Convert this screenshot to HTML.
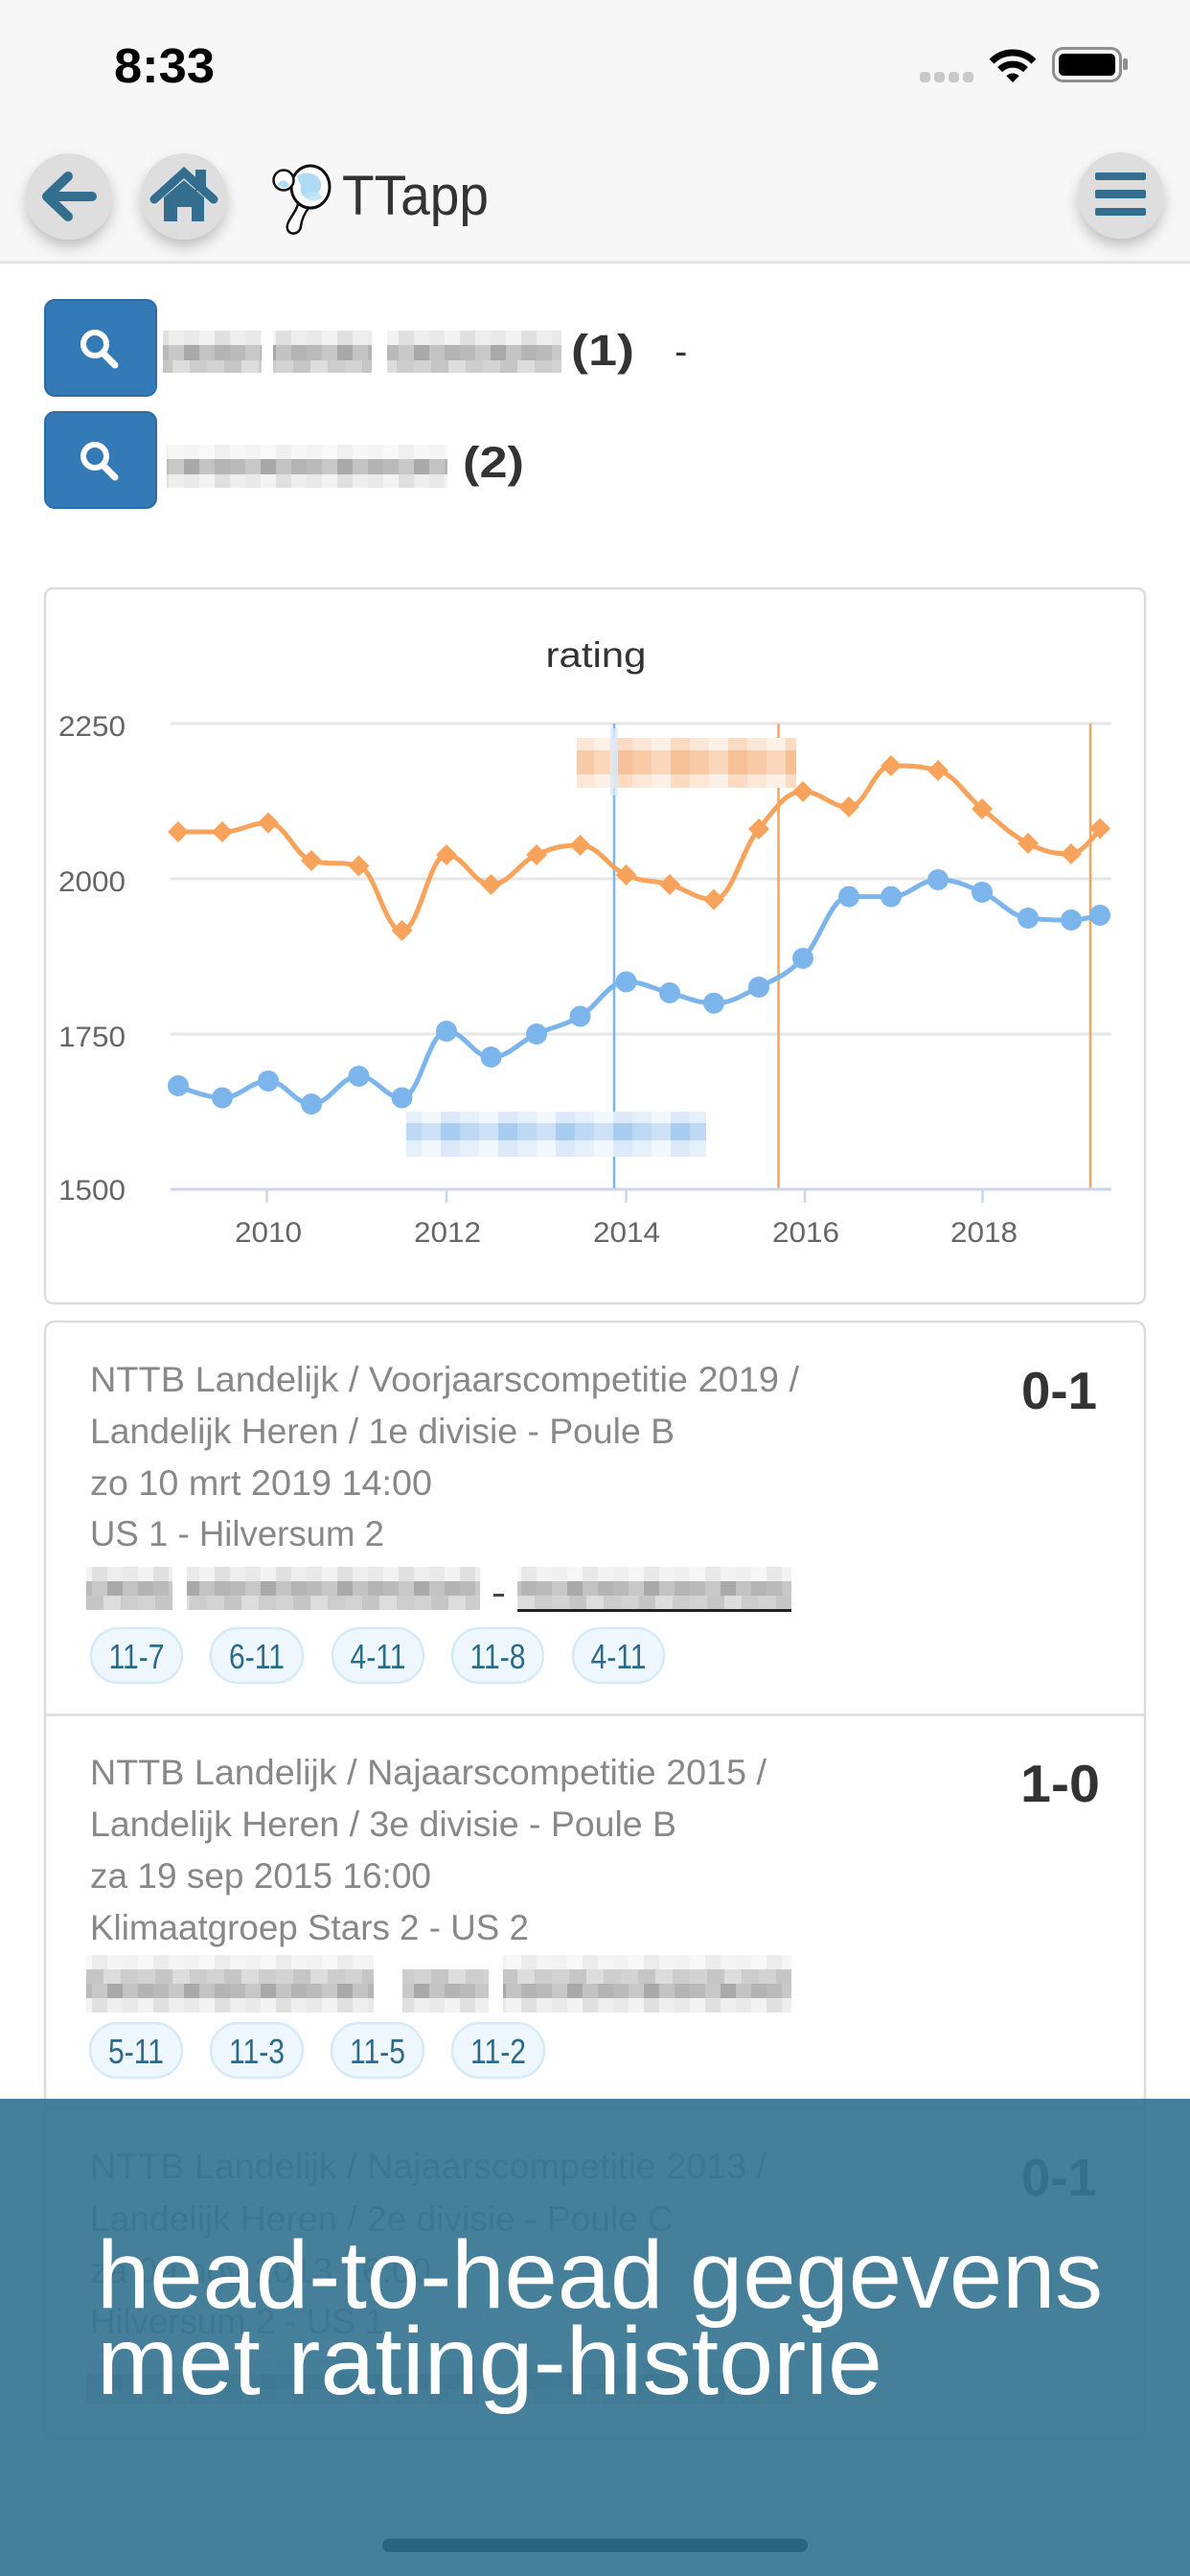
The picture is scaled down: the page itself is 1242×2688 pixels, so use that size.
<!DOCTYPE html>
<html>
<head>
<meta charset="utf-8">
<style>
  html,body{margin:0;padding:0;background:#fff;}
  body{width:1242px;height:2688px;overflow:hidden;position:relative;}
  svg{display:block;}
</style>
</head>
<body>
<svg width="1242" height="2688" viewBox="0 0 1242 2688" xmlns="http://www.w3.org/2000/svg" font-family="'Liberation Sans', sans-serif">
  <defs>
    <filter id="sh" x="-40%" y="-40%" width="180%" height="190%">
      <feDropShadow dx="0" dy="8" stdDeviation="7" flood-color="#000" flood-opacity="0.22"/>
    </filter>
    <pattern id="pl" patternUnits="userSpaceOnUse" width="64" height="2000">
      <rect x="0" y="0" width="16" height="2000" fill="#e9e9e9"/>
      <rect x="16" y="0" width="16" height="2000" fill="#f3f3f3"/>
      <rect x="32" y="0" width="16" height="2000" fill="#e0e0e0"/>
      <rect x="48" y="0" width="16" height="2000" fill="#eeeeee"/>
    </pattern>
    <pattern id="pd" patternUnits="userSpaceOnUse" width="80" height="2000">
      <rect x="0" y="0" width="16" height="2000" fill="#bababa"/>
      <rect x="16" y="0" width="16" height="2000" fill="#c8c8c8"/>
      <rect x="32" y="0" width="16" height="2000" fill="#a9a9a9"/>
      <rect x="48" y="0" width="16" height="2000" fill="#c3c3c3"/>
      <rect x="64" y="0" width="16" height="2000" fill="#b4b4b4"/>
    </pattern>
    <pattern id="pm" patternUnits="userSpaceOnUse" width="72" height="2000">
      <rect x="0" y="0" width="18" height="2000" fill="#d3d3d3"/>
      <rect x="18" y="0" width="18" height="2000" fill="#c6c6c6"/>
      <rect x="36" y="0" width="18" height="2000" fill="#dddddd"/>
      <rect x="54" y="0" width="18" height="2000" fill="#cdcdcd"/>
    </pattern>
    <pattern id="po" patternUnits="userSpaceOnUse" width="60" height="2000">
      <rect x="0" y="0" width="20" height="2000" fill="#f8cba6"/>
      <rect x="20" y="0" width="20" height="2000" fill="#fad7bb"/>
      <rect x="40" y="0" width="20" height="2000" fill="#f6c196"/>
    </pattern>
    <pattern id="pol" patternUnits="userSpaceOnUse" width="60" height="2000">
      <rect x="0" y="0" width="20" height="2000" fill="#fce6d5"/>
      <rect x="20" y="0" width="20" height="2000" fill="#fdf0e6"/>
      <rect x="40" y="0" width="20" height="2000" fill="#fbdcc3"/>
    </pattern>
    <pattern id="pb" patternUnits="userSpaceOnUse" width="60" height="2000">
      <rect x="0" y="0" width="20" height="2000" fill="#bcd8f3"/>
      <rect x="20" y="0" width="20" height="2000" fill="#cde2f6"/>
      <rect x="40" y="0" width="20" height="2000" fill="#a9cdf0"/>
    </pattern>
    <pattern id="pbl" patternUnits="userSpaceOnUse" width="60" height="2000">
      <rect x="0" y="0" width="20" height="2000" fill="#e6f0fa"/>
      <rect x="20" y="0" width="20" height="2000" fill="#f3f8fd"/>
      <rect x="40" y="0" width="20" height="2000" fill="#dde9f8"/>
    </pattern>
    <path id="dm" d="M0,-11 L11,0 L0,11 L-11,0 Z" fill="#f7a35c"/>
  </defs>

  <rect x="0" y="0" width="1242" height="2688" fill="#ffffff"/>

  <!-- ===== Header / status bar ===== -->
  <rect x="0" y="0" width="1242" height="273" fill="#f7f7f7"/>
  <rect x="0" y="272" width="1242" height="3" fill="#e4e4e4"/>
  <text x="119" y="86" font-size="51" font-weight="bold" fill="#000" textLength="105" lengthAdjust="spacingAndGlyphs">8:33</text>

  <!-- signal dots -->
  <rect x="960" y="75" width="11" height="11" rx="4" fill="#c8c8c8"/>
  <rect x="975" y="75" width="11" height="11" rx="4" fill="#c8c8c8"/>
  <rect x="990" y="75" width="11" height="11" rx="4" fill="#c8c8c8"/>
  <rect x="1005" y="75" width="11" height="11" rx="4" fill="#c8c8c8"/>
  <!-- wifi -->
  <path d="M1035.1,64.1 A31,31 0 0,1 1078.9,64.1" fill="none" stroke="#000" stroke-width="7"/>
  <path d="M1043.6,72.6 A19,19 0 0,1 1070.4,72.6" fill="none" stroke="#000" stroke-width="7"/>
  <path d="M1057,86 L1050.3,79.3 A9.5,9.5 0 0,1 1063.7,79.3 Z" fill="#000"/>
  <!-- battery -->
  <rect x="1099.5" y="50.5" width="70" height="34" rx="10" fill="none" stroke="#8e8e8e" stroke-width="3"/>
  <rect x="1105" y="56" width="59" height="23" rx="5" fill="#000"/>
  <rect x="1172" y="61" width="5" height="12" rx="2" fill="#8e8e8e"/>

  <!-- nav buttons -->
  <circle cx="72" cy="205" r="45" fill="#dedede" filter="url(#sh)"/>
  <circle cx="192" cy="205" r="45" fill="#dedede" filter="url(#sh)"/>
  <circle cx="1170" cy="204" r="45" fill="#dedede" filter="url(#sh)"/>
  <!-- back arrow -->
  <path d="M96,205 H52 M71,184 L49,205 L71,226" fill="none" stroke="#336e8e" stroke-width="10" stroke-linecap="round" stroke-linejoin="round"/>
  <!-- house -->
  <rect x="204" y="177" width="11" height="22" fill="#336e8e"/>
  <path d="M161,208 L192,180 L223,208" fill="none" stroke="#336e8e" stroke-width="9" stroke-linecap="round" stroke-linejoin="miter"/>
  <path d="M171,206 L192,188 L213,206 V231 H200 V216 H185 V231 H171 Z" fill="#336e8e"/>
  <!-- menu -->
  <rect x="1143" y="180" width="53" height="8" rx="2" fill="#336e8e"/>
  <rect x="1143" y="198" width="53" height="9" rx="2" fill="#336e8e"/>
  <rect x="1143" y="217" width="53" height="8" rx="2" fill="#336e8e"/>

  <!-- logo -->
  <path d="M311,213 C308,224 298,231 300,239 C302,246 313,245 314,236 C315,228 318,222 323,216" fill="#fff" stroke="#111" stroke-width="2.5"/>
  <ellipse cx="324" cy="195" rx="20" ry="22" fill="#ffffff" stroke="#111" stroke-width="3"/>
  <path d="M310,184 C318,178 330,180 334,188 C338,196 332,204 324,206 C316,208 312,200 314,194 Z" fill="#9fd3f2" opacity="0.85"/>
  <path d="M320,200 C326,202 334,198 336,206 C330,212 322,210 318,206 Z" fill="#b9e0f6" opacity="0.8"/>
  <circle cx="296" cy="188" r="10.5" fill="#ffffff" stroke="#111" stroke-width="2.5"/>
  <path d="M290,192 C294,186 300,188 302,194 C298,197 292,197 290,192 Z" fill="#9fd3f2" opacity="0.8"/>
  <text x="357" y="224" font-size="58" fill="#333" textLength="153" lengthAdjust="spacingAndGlyphs">TTapp</text>

  <!-- ===== Search rows ===== -->
  <rect x="47" y="313" width="116" height="100" rx="10" fill="#337ab7" stroke="#2e6da4" stroke-width="2"/>
  <circle cx="99" cy="359" r="12" fill="none" stroke="#fff" stroke-width="6"/>
  <line x1="108" y1="369" x2="120" y2="381" stroke="#fff" stroke-width="7" stroke-linecap="round"/>
  <rect x="47" y="430" width="116" height="100" rx="10" fill="#337ab7" stroke="#2e6da4" stroke-width="2"/>
  <circle cx="99" cy="476" r="12" fill="none" stroke="#fff" stroke-width="6"/>
  <line x1="108" y1="486" x2="120" y2="498" stroke="#fff" stroke-width="7" stroke-linecap="round"/>

  <!-- blurred name 1 -->
  <rect x="170" y="345" width="103" height="15" fill="url(#pl)"/>
  <rect x="170" y="360" width="103" height="16" fill="url(#pd)"/>
  <rect x="170" y="376" width="103" height="13" fill="url(#pm)"/>
  <rect x="285" y="345" width="103" height="15" fill="url(#pl)"/>
  <rect x="285" y="360" width="103" height="16" fill="url(#pd)"/>
  <rect x="285" y="376" width="103" height="13" fill="url(#pm)"/>
  <rect x="404" y="345" width="182" height="15" fill="url(#pl)"/>
  <rect x="404" y="360" width="182" height="16" fill="url(#pd)"/>
  <rect x="404" y="376" width="182" height="13" fill="url(#pm)"/>
  <text x="596" y="381" font-size="45" font-weight="bold" fill="#333" textLength="66" lengthAdjust="spacingAndGlyphs">(1)</text>
  <text x="704" y="380" font-size="40" fill="#333">-</text>

  <!-- blurred name 2 -->
  <rect x="174" y="464" width="293" height="15" fill="url(#pl)" opacity="0.5"/>
  <rect x="174" y="479" width="293" height="16" fill="url(#pd)"/>
  <rect x="174" y="495" width="293" height="14" fill="url(#pl)"/>
  <text x="483" y="498" font-size="45" font-weight="bold" fill="#333" textLength="64" lengthAdjust="spacingAndGlyphs">(2)</text>

  <!-- ===== Chart card ===== -->
  <rect x="47" y="614" width="1148" height="746" rx="8" fill="#fff" stroke="#dcdcdc" stroke-width="2.5"/>
  <text x="622" y="696" font-size="37" fill="#333" text-anchor="middle" textLength="105" lengthAdjust="spacingAndGlyphs">rating</text>

  <!-- grid -->
  <line x1="178" y1="755" x2="1160" y2="755" stroke="#e6e6e6" stroke-width="3"/>
  <line x1="178" y1="917" x2="1160" y2="917" stroke="#e6e6e6" stroke-width="3"/>
  <line x1="178" y1="1079" x2="1160" y2="1079" stroke="#e6e6e6" stroke-width="3"/>
  <!-- y labels -->
  <g font-size="30" fill="#666" text-anchor="end">
    <text x="131" y="768" textLength="70" lengthAdjust="spacingAndGlyphs">2250</text>
    <text x="131" y="930" textLength="70" lengthAdjust="spacingAndGlyphs">2000</text>
    <text x="131" y="1092" textLength="70" lengthAdjust="spacingAndGlyphs">1750</text>
    <text x="131" y="1252" textLength="70" lengthAdjust="spacingAndGlyphs">1500</text>
  </g>

  <!-- plot lines -->
  <line x1="641" y1="755" x2="641" y2="1241" stroke="#7cb5ec" stroke-width="2.5"/>
  <line x1="812.5" y1="755" x2="812.5" y2="1241" stroke="#f7a35c" stroke-width="2.5"/>
  <line x1="1138" y1="755" x2="1138" y2="1241" stroke="#f7a35c" stroke-width="2.5"/>

  <!-- blurred plot line labels -->
  <rect x="602" y="770" width="229" height="13" fill="url(#pol)"/>
  <rect x="602" y="783" width="229" height="25" fill="url(#po)"/>
  <rect x="602" y="808" width="229" height="14" fill="url(#pol)"/>
  <rect x="637" y="760" width="8" height="70" fill="#dbeaf9" opacity="0.8"/>
  <rect x="424" y="1160" width="313" height="12" fill="url(#pbl)"/>
  <rect x="424" y="1172" width="313" height="18" fill="url(#pb)"/>
  <rect x="424" y="1190" width="313" height="17" fill="url(#pbl)"/>

  <!-- x axis -->
  <line x1="178" y1="1241" x2="1160" y2="1241" stroke="#ccd6eb" stroke-width="3"/>
  <g stroke="#ccd6eb" stroke-width="2.5">
    <line x1="278.5" y1="1241" x2="278.5" y2="1255"/>
    <line x1="466" y1="1241" x2="466" y2="1255"/>
    <line x1="653.5" y1="1241" x2="653.5" y2="1255"/>
    <line x1="840" y1="1241" x2="840" y2="1255"/>
    <line x1="1025.5" y1="1241" x2="1025.5" y2="1255"/>
  </g>
  <g font-size="30" fill="#666" text-anchor="middle">
    <text x="280" y="1296" textLength="70" lengthAdjust="spacingAndGlyphs">2010</text>
    <text x="467" y="1296" textLength="70" lengthAdjust="spacingAndGlyphs">2012</text>
    <text x="654" y="1296" textLength="70" lengthAdjust="spacingAndGlyphs">2014</text>
    <text x="841" y="1296" textLength="70" lengthAdjust="spacingAndGlyphs">2016</text>
    <text x="1027" y="1296" textLength="70" lengthAdjust="spacingAndGlyphs">2018</text>
  </g>

  <!-- series -->
  <path id="sO" d="M186,868 L232,868 L280,858.6 L325,898 L374.5,903.5 L419.5,971 L466,892 L512.5,923 L560,892 L605.5,882 L653.5,913 L699,923 L745,938.6 L792,865 L838,826 L886,842 L930,799 L979,804 L1025,844 L1073,880 L1118,891 L1148,864.5" fill="none" stroke="#f7a35c" stroke-width="5" stroke-linejoin="round" stroke-linecap="round"/>
  <path id="sB" d="M186,1133 L232,1145.5 L280,1128 L325,1152 L374.5,1123 L419.5,1145.5 L466,1076 L512.5,1103 L560,1079 L605.5,1060.5 L653.5,1024.5 L699,1036 L745,1046.7 L792,1030 L838,1000 L886,935.6 L930,935.6 L979,918 L1025,931 L1073,958 L1118,960 L1148,955" fill="none" stroke="#7cb5ec" stroke-width="5" stroke-linejoin="round" stroke-linecap="round"/>

  <g>
    <use href="#dm" x="186" y="868"/><use href="#dm" x="232" y="868"/><use href="#dm" x="280" y="858.6"/>
    <use href="#dm" x="325" y="898"/><use href="#dm" x="374.5" y="903.5"/><use href="#dm" x="419.5" y="971"/>
    <use href="#dm" x="466" y="892"/><use href="#dm" x="512.5" y="923"/><use href="#dm" x="560" y="892"/>
    <use href="#dm" x="605.5" y="882"/><use href="#dm" x="653.5" y="913"/><use href="#dm" x="699" y="923"/>
    <use href="#dm" x="745" y="938.6"/><use href="#dm" x="792" y="865"/><use href="#dm" x="838" y="826"/>
    <use href="#dm" x="886" y="842"/><use href="#dm" x="930" y="799"/><use href="#dm" x="979" y="804"/>
    <use href="#dm" x="1025" y="844"/><use href="#dm" x="1073" y="880"/><use href="#dm" x="1118" y="891"/>
    <use href="#dm" x="1148" y="864.5"/>
  </g>
  <g fill="#7cb5ec">
    <circle cx="186" cy="1133" r="11"/><circle cx="232" cy="1145.5" r="11"/><circle cx="280" cy="1128" r="11"/>
    <circle cx="325" cy="1152" r="11"/><circle cx="374.5" cy="1123" r="11"/><circle cx="419.5" cy="1145.5" r="11"/>
    <circle cx="466" cy="1076" r="11"/><circle cx="512.5" cy="1103" r="11"/><circle cx="560" cy="1079" r="11"/>
    <circle cx="605.5" cy="1060.5" r="11"/><circle cx="653.5" cy="1024.5" r="11"/><circle cx="699" cy="1036" r="11"/>
    <circle cx="745" cy="1046.7" r="11"/><circle cx="792" cy="1030" r="11"/><circle cx="838" cy="1000" r="11"/>
    <circle cx="886" cy="935.6" r="11"/><circle cx="930" cy="935.6" r="11"/><circle cx="979" cy="918" r="11"/>
    <circle cx="1025" cy="931" r="11"/><circle cx="1073" cy="958" r="11"/><circle cx="1118" cy="960" r="11"/>
    <circle cx="1148" cy="955" r="11"/>
  </g>

  <!-- ===== Match list ===== -->
  <rect x="47" y="1379" width="1148" height="1166" rx="10" fill="#fff" stroke="#dcdcdc" stroke-width="2.5"/>
  <line x1="47" y1="1789.5" x2="1195" y2="1789.5" stroke="#dcdcdc" stroke-width="2.5"/>
  <line x1="47" y1="2200" x2="1195" y2="2200" stroke="#dcdcdc" stroke-width="2.5"/>

  <!-- card 1 -->
  <g font-size="37" fill="#888">
    <text x="94" y="1452" textLength="740" lengthAdjust="spacingAndGlyphs">NTTB Landelijk / Voorjaarscompetitie 2019 /</text>
    <text x="94" y="1506" textLength="610" lengthAdjust="spacingAndGlyphs">Landelijk Heren / 1e divisie - Poule B</text>
    <text x="94" y="1560" textLength="357" lengthAdjust="spacingAndGlyphs">zo 10 mrt 2019 14:00</text>
    <text x="94" y="1613" textLength="307" lengthAdjust="spacingAndGlyphs">US 1 - Hilversum 2</text>
  </g>
  <text x="1066" y="1470" font-size="55" font-weight="bold" fill="#333" textLength="79" lengthAdjust="spacingAndGlyphs">0-1</text>
  <!-- blurred players card1 -->
  <rect x="90" y="1635" width="90" height="15" fill="url(#pl)"/>
  <rect x="90" y="1650" width="90" height="15" fill="url(#pd)"/>
  <rect x="90" y="1665" width="90" height="15" fill="url(#pm)"/>
  <rect x="195" y="1635" width="306" height="15" fill="url(#pl)"/>
  <rect x="195" y="1650" width="306" height="15" fill="url(#pd)"/>
  <rect x="195" y="1665" width="306" height="15" fill="url(#pm)"/>
  <rect x="515" y="1663" width="11" height="3" fill="#444"/>
  <rect x="540" y="1635" width="286" height="15" fill="url(#pl)" opacity="0.7"/>
  <rect x="540" y="1650" width="286" height="15" fill="url(#pd)"/>
  <rect x="540" y="1665" width="286" height="14" fill="url(#pm)"/>
  <rect x="540" y="1679" width="286" height="3" fill="#222"/>
  <!-- chips card1 -->
  <g fill="#eef7fd" stroke="#d5eaf6" stroke-width="2.5">
    <rect x="95" y="1699" width="95" height="57" rx="28.5"/>
    <rect x="220" y="1699" width="96" height="57" rx="28.5"/>
    <rect x="347" y="1699" width="95" height="57" rx="28.5"/>
    <rect x="472" y="1699" width="95" height="57" rx="28.5"/>
    <rect x="598" y="1699" width="95" height="57" rx="28.5"/>
  </g>
  <g font-size="36" fill="#2d6a89" text-anchor="middle">
    <text x="142.5" y="1741" textLength="58" lengthAdjust="spacingAndGlyphs">11-7</text>
    <text x="268" y="1741" textLength="58" lengthAdjust="spacingAndGlyphs">6-11</text>
    <text x="394.5" y="1741" textLength="58" lengthAdjust="spacingAndGlyphs">4-11</text>
    <text x="519.5" y="1741" textLength="58" lengthAdjust="spacingAndGlyphs">11-8</text>
    <text x="645.5" y="1741" textLength="58" lengthAdjust="spacingAndGlyphs">4-11</text>
  </g>

  <!-- card 2 -->
  <g font-size="37" fill="#888">
    <text x="94" y="1862" textLength="706" lengthAdjust="spacingAndGlyphs">NTTB Landelijk / Najaarscompetitie 2015 /</text>
    <text x="94" y="1916" textLength="612" lengthAdjust="spacingAndGlyphs">Landelijk Heren / 3e divisie - Poule B</text>
    <text x="94" y="1970" textLength="356" lengthAdjust="spacingAndGlyphs">za 19 sep 2015 16:00</text>
    <text x="94" y="2024" textLength="458" lengthAdjust="spacingAndGlyphs">Klimaatgroep Stars 2 - US 2</text>
  </g>
  <text x="1065" y="1880" font-size="55" font-weight="bold" fill="#333" textLength="83" lengthAdjust="spacingAndGlyphs">1-0</text>
  <!-- blurred players card2 -->
  <rect x="90" y="2040" width="300" height="15" fill="url(#pl)" opacity="0.6"/>
  <rect x="90" y="2055" width="300" height="15" fill="url(#pm)"/>
  <rect x="90" y="2070" width="300" height="15" fill="url(#pd)"/>
  <rect x="90" y="2085" width="300" height="15" fill="url(#pl)"/>
  <rect x="420" y="2055" width="90" height="15" fill="url(#pm)"/>
  <rect x="420" y="2070" width="90" height="15" fill="url(#pd)"/>
  <rect x="420" y="2085" width="90" height="15" fill="url(#pl)"/>
  <rect x="525" y="2040" width="301" height="15" fill="url(#pl)" opacity="0.6"/>
  <rect x="525" y="2055" width="301" height="15" fill="url(#pm)"/>
  <rect x="525" y="2070" width="301" height="15" fill="url(#pd)"/>
  <rect x="525" y="2085" width="301" height="15" fill="url(#pl)"/>
  <!-- chips card2 -->
  <g fill="#eef7fd" stroke="#d5eaf6" stroke-width="2.5">
    <rect x="94" y="2111" width="96" height="57" rx="28.5"/>
    <rect x="220" y="2111" width="96" height="57" rx="28.5"/>
    <rect x="346" y="2111" width="96" height="57" rx="28.5"/>
    <rect x="472" y="2111" width="96" height="57" rx="28.5"/>
  </g>
  <g font-size="36" fill="#2d6a89" text-anchor="middle">
    <text x="142" y="2153" textLength="58" lengthAdjust="spacingAndGlyphs">5-11</text>
    <text x="268" y="2153" textLength="58" lengthAdjust="spacingAndGlyphs">11-3</text>
    <text x="394" y="2153" textLength="58" lengthAdjust="spacingAndGlyphs">11-5</text>
    <text x="520" y="2153" textLength="58" lengthAdjust="spacingAndGlyphs">11-2</text>
  </g>

  <!-- card 3 -->
  <g font-size="37" fill="#888">
    <text x="94" y="2273" textLength="706" lengthAdjust="spacingAndGlyphs">NTTB Landelijk / Najaarscompetitie 2013 /</text>
    <text x="94" y="2328" textLength="609" lengthAdjust="spacingAndGlyphs">Landelijk Heren / 2e divisie - Poule C</text>
    <text x="94" y="2382" textLength="356" lengthAdjust="spacingAndGlyphs">za 09 nov 2013 16:00</text>
    <text x="94" y="2435" textLength="307" lengthAdjust="spacingAndGlyphs">Hilversum 2 - US 1</text>
  </g>
  <text x="1066" y="2291" font-size="55" font-weight="bold" fill="#333" textLength="79" lengthAdjust="spacingAndGlyphs">0-1</text>
  <rect x="90" y="2462" width="410" height="15" fill="url(#pl)"/>
  <rect x="90" y="2477" width="410" height="16" fill="url(#pd)"/>
  <rect x="90" y="2493" width="410" height="15" fill="url(#pm)"/>
  <rect x="540" y="2462" width="286" height="15" fill="url(#pl)"/>
  <rect x="540" y="2477" width="286" height="16" fill="url(#pd)"/>
  <rect x="540" y="2493" width="286" height="15" fill="url(#pm)"/>

  <!-- ===== Overlay ===== -->
  <rect x="0" y="2190" width="1242" height="498" fill="rgb(54,116,145)" fill-opacity="0.92"/>
  <text x="101" y="2408" font-size="100" fill="#ffffff" textLength="1050" lengthAdjust="spacingAndGlyphs">head-to-head gegevens</text>
  <text x="101" y="2498" font-size="100" fill="#ffffff" textLength="820" lengthAdjust="spacingAndGlyphs">met rating-historie</text>
  <rect x="399" y="2649" width="444" height="14" rx="7" fill="#2a6380"/>
</svg>

<script>
(function(){
  function sp(p){
    var s=1.5,d=2.5,n=p.length,L=[],R=[],i;
    for(i=0;i<n;i++){
      if(i===0||i===n-1){L[i]=p[i];R[i]=p[i];continue;}
      var lx=p[i-1][0],ly=p[i-1][1],px=p[i][0],py=p[i][1],nx=p[i+1][0],ny=p[i+1][1];
      var a=(s*px+lx)/d,b=(s*py+ly)/d,c=(s*px+nx)/d,e=(s*py+ny)/d;
      if(c!==a){var k=((e-b)*(c-px))/(c-a)+py-e;b+=k;e+=k;}
      if(b>ly&&b>py){b=Math.max(ly,py);e=2*py-b;}else if(b<ly&&b<py){b=Math.min(ly,py);e=2*py-b;}
      if(e>ny&&e>py){e=Math.max(ny,py);b=2*py-e;}else if(e<ny&&e<py){e=Math.min(ny,py);b=2*py-e;}
      L[i]=[a,b];R[i]=[c,e];
    }
    var str='M'+p[0][0]+' '+p[0][1];
    for(i=1;i<n;i++){
      str+=' C'+R[i-1][0].toFixed(1)+' '+R[i-1][1].toFixed(1)+' '+L[i][0].toFixed(1)+' '+L[i][1].toFixed(1)+' '+p[i][0]+' '+p[i][1];
    }
    return str;
  }
  var O=[[186,868],[232,868],[280,858.6],[325,898],[374.5,903.5],[419.5,971],[466,892],[512.5,923],[560,892],[605.5,882],[653.5,913],[699,923],[745,938.6],[792,865],[838,826],[886,842],[930,799],[979,804],[1025,844],[1073,880],[1118,891],[1148,864.5]];
  var B=[[186,1133],[232,1145.5],[280,1128],[325,1152],[374.5,1123],[419.5,1145.5],[466,1076],[512.5,1103],[560,1079],[605.5,1060.5],[653.5,1024.5],[699,1036],[745,1046.7],[792,1030],[838,1000],[886,935.6],[930,935.6],[979,918],[1025,931],[1073,958],[1118,960],[1148,955]];
  try{
    document.getElementById('sO').setAttribute('d',sp(O));
    document.getElementById('sB').setAttribute('d',sp(B));
  }catch(err){}
})();
</script>
</body>
</html>
